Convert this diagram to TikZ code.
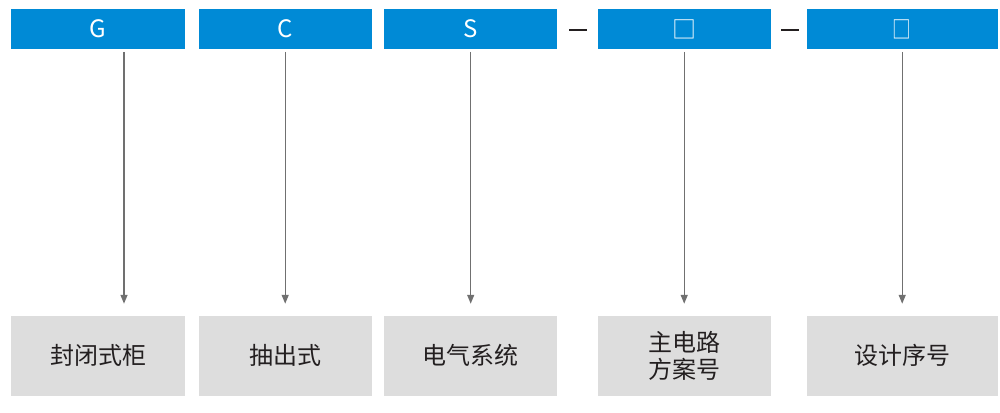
\documentclass[tikz,border=0pt]{standalone}
\usepackage{fontspec}
\setmainfont{Noto Sans CJK SC}
\usepackage{tikz}
\usetikzlibrary{arrows.meta,positioning}
\definecolor{codeblue}{RGB}{0,138,214}
\definecolor{notegray}{RGB}{221,221,221}
\definecolor{arrowgray}{RGB}{112,112,112}
\definecolor{inkdark}{RGB}{35,31,32}

\begin{document}
\begin{tikzpicture}[x=1pt,y=-1pt,
  codebox/.style={fill=codeblue,text=white,minimum height=39.4pt,inner sep=0pt,
    font=\fontsize{24}{27}\selectfont},
  notebox/.style={fill=notegray,text=inkdark,minimum height=79.7pt,inner sep=0pt,
    align=center,font=\fontsize{24}{27}\selectfont},
  arr/.style={arrowgray,line width=1.4pt,-{Triangle[width=7pt,length=9pt]}},
  dashline/.style={inkdark,line width=2pt}]
\useasboundingbox (0,0) rectangle (1000,412);
% top row: code letters
\node [codebox,minimum width=174pt] (G) at (98,29) {G};
\node [codebox,minimum width=173pt] (C) at (285.2,29) {C};
\node [codebox,minimum width=173.3pt] (S) at (470.7,29) {S};
\node [codebox,minimum width=173pt] (X) at (684.2,29) {□};
\node [codebox,minimum width=191pt] (Y) at (902.2,29) {\scalebox{0.78}[1]{□}};
% separators
\coordinate (d1a) at (569.3,30);
\coordinate (d1b) at (587.3,30);
\coordinate (d2a) at (781,30);
\coordinate (d2b) at (799,30);
\draw [dashline] (d1a) -- (d1b);
\draw [dashline] (d2a) -- (d2b);
% bottom row: meanings
\node [notebox,minimum width=174pt] (t1) at (98,355.8) {封闭式柜};
\node [notebox,minimum width=173pt] (t2) at (285.2,355.8) {抽出式};
\node [notebox,minimum width=173.3pt] (t3) at (470.7,355.8) {电气系统};
\node [notebox,minimum width=173pt] (t4) at (684.2,355.8) {主电路\\方案号};
\node [notebox,minimum width=191pt] (t5) at (902.2,355.8) {设计序号};
% arrows
\draw [arr] ([xshift=26pt,yshift=-3pt]G.south) -- ([xshift=26pt,yshift=12pt]t1.north);
\draw [arr] ([yshift=-3pt]C.south) -- ([yshift=12pt]t2.north);
\draw [arr] ([yshift=-3pt]S.south) -- ([yshift=12pt]t3.north);
\draw [arr] ([yshift=-3pt]X.south) -- ([yshift=12pt]t4.north);
\draw [arr] ([yshift=-3pt]Y.south) -- ([yshift=12pt]t5.north);
\end{tikzpicture}
\end{document}
